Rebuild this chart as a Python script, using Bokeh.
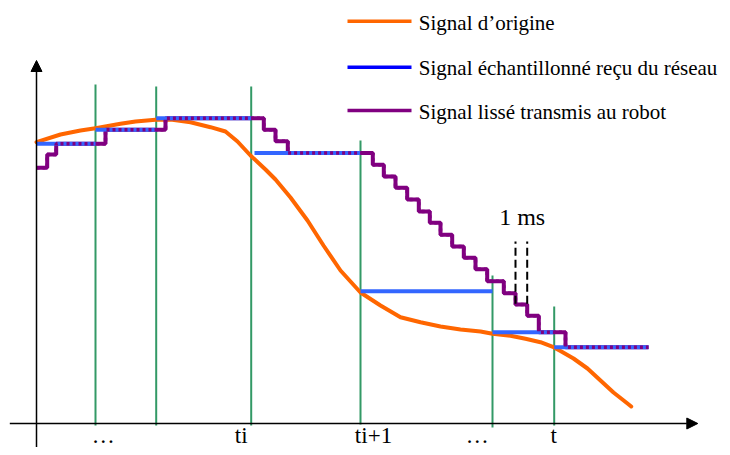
from bokeh.plotting import figure
from bokeh.models import Range1d, Arrow, NormalHead
from bokeh.core.properties import value
from bokeh.embed import file_html
from bokeh.resources import INLINE

# ---------------- data (drawing units: time t, signal value v) ----------------
# Original signal (orange)
orig_t = [0, 24, 44, 59, 84, 99, 119, 134, 154, 174, 189, 201, 214, 229, 239, 254,
          271, 287, 304, 324, 344, 364, 384, 404, 424, 444, 456, 474, 489, 504, 517,
          524, 537, 551, 564, 577, 591, 594.7]
orig_v = [281.3, 289, 293, 295.3, 299.7, 302, 303.7, 304, 301.3, 296.3, 292, 282, 268,
          254, 244, 226, 203, 178, 153, 131, 118, 106.3, 101.3, 97, 94, 92, 89.7, 87.7,
          84.7, 81.3, 76.3, 72.5, 65, 55, 43, 31, 20, 17]

# Sampling instants (green)
sample_t = [59, 119.7, 214.7, 324, 456, 517.7]
sample_top = [339, 337, 337, 283, 148, 117]
sample_bottom = [-2, -2, -2, -1, -4, -2]

# Samples received from the network (blue)
recv_start = [0, 59, 119.7, 218, 324, 456, 517.7]
recv_end = [59, 119.7, 215, 324, 456, 517.7, 612]
recv_v = [279.7, 293.7, 305.3, 270.5, 132.2, 91.3, 76.3]

# Smoothed signal sent to the robot (purple): step edges and levels
smooth_edges = [0, 10.7, 19.7, 69, 129, 227.3, 239, 251.3, 336.3, 347.3, 359, 370.7,
                382.3, 393.3, 404, 415.7, 427.3, 439, 450.7, 467.3, 479, 490.7, 502.3,
                529, 612]
smooth_levels = [255.7, 269, 279.7, 293.7, 305.3, 293.7, 282.3, 270.5, 258.7, 247,
                 235.7, 224, 212, 200.7, 188.7, 177, 165.7, 154.3, 142.3, 130.3, 119,
                 107.7, 91.3, 76.3]

# 1 ms marker
ms_t = [479, 490.7]
ms_low, ms_high = 119.7, 182
ms_label = "1 ms"

# x-axis labels
tick_t = [66.7, 204.7, 337, 440.7, 517.3]
tick_labels = ["\u2026", "ti", "ti+1", "\u2026", "t"]

# legend
legend_labels = ["Signal d\u2019origine",
                 "Signal \u00e9chantillonn\u00e9 re\u00e7u du r\u00e9seau",
                 "Signal liss\u00e9 transmis au robot"]
legend_colors = ["#FF6600", "#0000FF", "#800080"]

# ---------------- styles / layout ----------------
ORANGE = "#FF6600"
BLUE = "#3366FF"
PURPLE = "#800080"
GREEN = "#339966"
FONT = value("Liberation Serif")

p = figure(width=722, height=447, x_range=Range1d(-36, 686), y_range=Range1d(-24, 423),
           output_backend="svg", toolbar_location=None, title=None,
           x_axis_type=None, y_axis_type=None, min_border=0)
p.grid.visible = False
p.outline_line_color = None
p.background_fill_color = "white"
p.border_fill_color = "white"

# axes with arrows
p.add_layout(Arrow(x_start=-26.7, y_start=0, x_end=661.3, y_end=0, line_width=1.5,
                   line_color="black",
                   end=NormalHead(size=11, fill_color="black", line_color="black", line_width=1)))
p.add_layout(Arrow(x_start=0, y_start=-24, x_end=0, y_end=363, line_width=1.5,
                   line_color="black",
                   end=NormalHead(size=11, fill_color="black", line_color="black", line_width=1)))

# sampling instants
p.segment(x0=sample_t, y0=sample_bottom, x1=sample_t, y1=sample_top,
          line_color=GREEN, line_width=2)

# original signal
p.line(orig_t, orig_v, line_color=ORANGE, line_width=4, line_join="round", line_cap="round")

# smoothed staircase path
sx, sy = [], []
for i, lvl in enumerate(smooth_levels):
    sx += [smooth_edges[i], smooth_edges[i + 1]]
    sy += [lvl, lvl]
p.line(sx, sy, line_color=PURPLE, line_width=4)

# received samples
p.segment(x0=recv_start, y0=recv_v, x1=recv_end, y1=recv_v, line_color=BLUE, line_width=4)

# purple dotted over the blue
p.line(sx, sy, line_color=PURPLE, line_width=3.5, line_dash="3 3")

# 1 ms marker
p.segment(x0=ms_t, y0=[ms_low] * 2, x1=ms_t, y1=[ms_high] * 2,
          line_color="black", line_width=2, line_dash="8 4")
p.text(x=[sum(ms_t) / 2 + 0.8], y=[207], text=[ms_label], text_font=FONT,
       text_font_size=value("24px"), text_align="center", text_baseline="alphabetic",
       text_color="black")

# x-axis labels
p.text(x=tick_t, y=[-12] * len(tick_t), text=tick_labels, text_font=FONT,
       text_font_size=value("23px"), text_align="center", text_baseline="alphabetic",
       text_color="black")

# legend
leg_line_v = [402.3, 356.3, 313]
leg_text_v = [400.7, 355.7, 311.3]
p.segment(x0=[311] * 3, y0=leg_line_v, x1=[375] * 3, y1=leg_line_v,
          line_color=legend_colors, line_width=3.5)
p.text(x=[382.3] * 3, y=leg_text_v, text=legend_labels, text_font=FONT,
       text_font_size=value("21px"), text_align="left", text_baseline="alphabetic",
       text_color="black")

open("out.html", "w").write(file_html(p, INLINE))
